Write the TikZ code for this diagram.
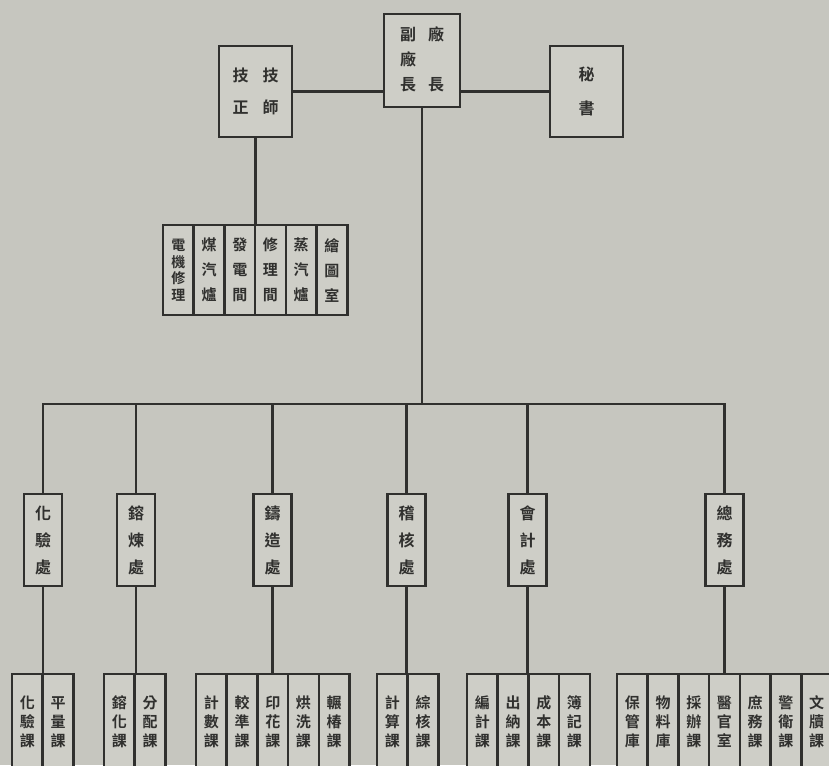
\documentclass[tikz,border=0pt]{standalone}
\usepackage{fontspec}
\newfontfamily\cjk{Noto Sans CJK TC}[BoldFont={Noto Sans CJK TC Bold}]
\usepackage{tikz}
\usetikzlibrary{positioning}
\definecolor{paper}{RGB}{198,198,191}
\definecolor{boxfill}{RGB}{206,206,199}
\definecolor{ink}{RGB}{48,48,46}

\begin{document}
\begin{tikzpicture}[x=1pt,y=-1pt,line width=2.6pt,
every edge/.append style={draw=ink,line width=2.6pt,line cap=rect},
office/.style={draw=ink,fill=boxfill,inner sep=0pt,outer sep=0pt,text=ink,font=\cjk\bfseries\fontsize{16}{25}\selectfont},
dept/.style={office,minimum width=38pt,minimum height=92pt,align=center,font=\cjk\bfseries\fontsize{16}{27}\selectfont},
shop/.style={office,minimum width=30.7pt,minimum height=90pt,align=center,font=\cjk\bfseries\fontsize{15}{25}\selectfont},
tight/.style={font=\cjk\bfseries\fontsize{14}{16.5}\selectfont},
sect/.style={office,minimum width=30.7pt,minimum height=96pt,align=center,font=\cjk\bfseries\fontsize{15}{19}\selectfont}]

\path[use as bounding box,fill=paper] (0,0) rectangle (829,765);
\clip (0,0) rectangle (829,765);

% Top row
\node[office,minimum width=76pt,minimum height=93pt] (chief) at (422,60.5)
  {\begin{tabular}{@{}c@{\hspace{12pt}}c@{}}副&廠\\廠&\\長&長\end{tabular}};
\node[office,minimum width=73pt,minimum height=91pt,font=\cjk\bfseries\fontsize{16}{32}\selectfont] (jishi) at (255.5,91.5)
  {\begin{tabular}{@{}c@{\hspace{14pt}}c@{}}技&技\\正&師\end{tabular}};
\node[office,minimum width=73pt,minimum height=91pt,align=center,font=\cjk\bfseries\fontsize{16}{34}\selectfont] (mishu) at (586.5,91.5) {秘\\書};

% Shops under the engineer
\node[shop,tight,anchor=north west] (dianji) at (163,225) {電\\機\\修\\理};
\node[shop] (meiqi) [right=0pt of dianji] {煤\\汽\\爐};
\node[shop] (fadian) [right=0pt of meiqi] {發\\電\\間};
\node[shop] (xiuli) [right=0pt of fadian] {修\\理\\間};
\node[shop] (zhengqi) [right=0pt of xiuli] {蒸\\汽\\爐};
\node[shop] (huitu) [right=0pt of zhengqi] {繪\\圖\\室};

% Departments
\node[dept] (huayan) at (43,540) {化\\驗\\處};
\node[dept] (ronglian) at (136,540) {鎔\\煉\\處};
\node[dept] (zhuzao) at (272.5,540) {鑄\\造\\處};
\node[dept] (jihe) at (406.5,540) {稽\\核\\處};
\node[dept] (kuaiji) at (527.5,540) {會\\計\\處};
\node[dept] (zongwu) at (724.5,540) {總\\務\\處};
\path (huayan.north) ++(0,-90) coordinate (barL);
\path (zongwu.north) ++(0,-90) coordinate (barR);

% Sections
\node[sect,anchor=north west] (huayan1) at (12,674) {化\\驗\\課};
\node[sect] (huayan2) [right=0pt of huayan1] {平\\量\\課};

\node[sect,anchor=north west] (ronglian1) at (104,674) {鎔\\化\\課};
\node[sect] (ronglian2) [right=0pt of ronglian1] {分\\配\\課};

\node[sect,anchor=north west] (zhuzao1) at (196,674) {計\\數\\課};
\node[sect] (zhuzao2) [right=0pt of zhuzao1] {較\\準\\課};
\node[sect] (zhuzao3) [right=0pt of zhuzao2] {印\\花\\課};
\node[sect] (zhuzao4) [right=0pt of zhuzao3] {烘\\洗\\課};
\node[sect] (zhuzao5) [right=0pt of zhuzao4] {輾\\椿\\課};

\node[sect,anchor=north west] (jihe1) at (377,674) {計\\算\\課};
\node[sect] (jihe2) [right=0pt of jihe1] {綜\\核\\課};

\node[sect,anchor=north west] (kuaiji1) at (467,674) {編\\計\\課};
\node[sect] (kuaiji2) [right=0pt of kuaiji1] {出\\納\\課};
\node[sect] (kuaiji3) [right=0pt of kuaiji2] {成\\本\\課};
\node[sect] (kuaiji4) [right=0pt of kuaiji3] {簿\\記\\課};

\node[sect,anchor=north west] (zongwu1) at (617,674) {保\\管\\庫};
\node[sect] (zongwu2) [right=0pt of zongwu1] {物\\料\\庫};
\node[sect] (zongwu3) [right=0pt of zongwu2] {採\\辦\\課};
\node[sect] (zongwu4) [right=0pt of zongwu3] {醫\\官\\室};
\node[sect] (zongwu5) [right=0pt of zongwu4] {庶\\務\\課};
\node[sect] (zongwu6) [right=0pt of zongwu5] {警\\衛\\課};
\node[sect] (zongwu7) [right=0pt of zongwu6] {文\\牘\\課};

% Chief to engineer and secretary
\path (jishi.east) edge (jishi.east -| chief.west)
(mishu.west) edge (mishu.west -| chief.east)
% Engineer down to the shops
(jishi.south) edge (jishi.south |- xiuli.north)
% Chief down to the bar, bar to departments
(chief.south) edge (chief.south |- barL)
(barL) edge (barR)
(huayan.north) edge (barL)
(ronglian.north) edge (ronglian.north |- barL)
(zhuzao.north) edge (zhuzao.north |- barL)
(jihe.north) edge (jihe.north |- barL)
(kuaiji.north) edge (kuaiji.north |- barL)
(zongwu.north) edge (barR)
% Departments down to their sections
(huayan.south) edge (huayan.south |- huayan1.north)
(ronglian.south) edge (ronglian.south |- ronglian1.north)
(zhuzao.south) edge (zhuzao.south |- zhuzao1.north)
(jihe.south) edge (jihe.south |- jihe1.north)
(kuaiji.south) edge (kuaiji.south |- kuaiji1.north)
(zongwu.south) edge (zongwu.south |- zongwu1.north);
\end{tikzpicture}
\end{document}
